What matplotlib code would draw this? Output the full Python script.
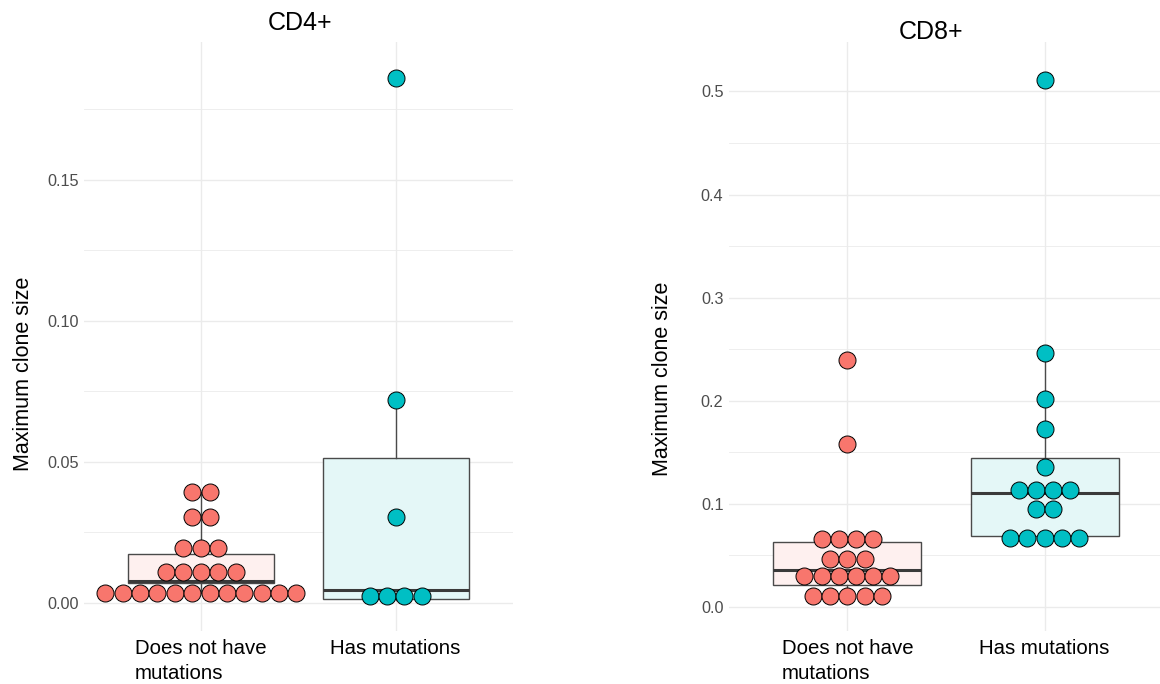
import numpy as np
import matplotlib.pyplot as plt

plt.rcParams['font.family'] = ['Liberation Sans', 'DejaVu Sans']

groups = ['Does not have\nmutations', 'Has mutations']
group_colors = ['#F8766D', '#00BFC4']
box_fills = ['#FEF0EF', '#E4F7F7']

# dot rows (binned values) and how many dots sit in each row
cd4_none_y = [0.0033, 0.0110, 0.0193, 0.0303, 0.0393]
cd4_none_n = [12, 5, 3, 2, 2]
cd4_mut_y = [0.0024, 0.0305, 0.0719, 0.1861]
cd4_mut_n = [4, 1, 1, 1]

cd8_none_y = [0.0110, 0.0304, 0.0469, 0.0660, 0.1585, 0.2397]
cd8_none_n = [5, 6, 3, 4, 1, 1]
cd8_mut_y = [0.0670, 0.0951, 0.1135, 0.1361, 0.1724, 0.2018, 0.2462, 0.5113]
cd8_mut_n = [5, 2, 4, 1, 1, 1, 1, 1]

# box stats: low whisker, q1, median, q3, high whisker
cd4_box_none = [0.0033, 0.0069, 0.0077, 0.0174, 0.0393]
cd4_box_mut = [0.0010, 0.0014, 0.0045, 0.0513, 0.0719]
cd8_box_none = [0.0110, 0.0213, 0.0362, 0.0631, 0.0660]
cd8_box_mut = [0.0670, 0.0692, 0.1103, 0.1449, 0.2462]


def box_stats(v):
    return dict(whislo=v[0], q1=v[1], med=v[2], q3=v[3], whishi=v[4])


def panel(ax, rows, boxes, dot_w, yticks, ylabels, minor, ylim, xlim):
    for y in minor:
        ax.axhline(y, color='#EBEBEB', lw=0.6, zorder=0)
    for y in yticks:
        ax.axhline(y, color='#EBEBEB', lw=1.0, zorder=0)
    for x in [1, 2]:
        ax.axvline(x, color='#EBEBEB', lw=1.0, zorder=0)

    bp = ax.bxp([box_stats(b) for b in boxes], positions=[1, 2], widths=0.75,
                showfliers=False, showcaps=False, patch_artist=True,
                boxprops=dict(edgecolor='#4a4a4a', linewidth=1.0),
                whiskerprops=dict(color='#4a4a4a', linewidth=1.0),
                medianprops=dict(color='#3a3a3a', linewidth=2.2),
                zorder=2)
    for patch, fc in zip(bp['boxes'], box_fills):
        patch.set_facecolor(fc)

    for i, (ys, ns) in enumerate(rows):
        for y, n in zip(ys, ns):
            xs = i + 1 + (np.arange(n) - (n - 1) / 2) * dot_w
            ax.scatter(xs, [y] * n, s=150, c=group_colors[i], edgecolors='black',
                       linewidths=0.7, zorder=3)

    ax.set_xlim(*xlim)
    ax.set_ylim(*ylim)
    ax.set_xticks([1, 2])
    ax.set_xticklabels(groups, fontsize=14.7, multialignment='left',
                       color='black', linespacing=1.4)
    ax.set_yticks(yticks)
    ax.set_yticklabels(ylabels, fontsize=11.7, color='#4D4D4D')
    ax.tick_params(axis='both', length=0)
    ax.tick_params(axis='x', pad=5.5)
    ax.tick_params(axis='y', pad=4)
    for s in ax.spines.values():
        s.set_visible(False)
    ax.set_facecolor('none')


fig = plt.figure(figsize=(11.6, 6.84), dpi=100)
W, H = 1160, 684

ax1 = fig.add_axes([84 / W, (H - 631) / H, (512.5 - 84) / W, (631 - 42) / H])
panel(ax1, [(cd4_none_y, cd4_none_n), (cd4_mut_y, cd4_mut_n)],
      [cd4_box_none, cd4_box_mut], 0.0892,
      [0, 0.05, 0.10, 0.15], ['0.00', '0.05', '0.10', '0.15'],
      [0.025, 0.075, 0.125, 0.175], (-0.0100, 0.1988), (0.4, 2.6))

ax2 = fig.add_axes([729 / W, (H - 631) / H, (1163 - 729) / W, (631 - 42) / H])
panel(ax2, [(cd8_none_y, cd8_none_n), (cd8_mut_y, cd8_mut_n)],
      [cd8_box_none, cd8_box_mut], 0.0874,
      [0, 0.1, 0.2, 0.3, 0.4, 0.5], ['0.0', '0.1', '0.2', '0.3', '0.4', '0.5'],
      [0.05, 0.15, 0.25, 0.35, 0.45], (-0.0233, 0.548), (0.4, 2.6))

fig.text(300 / W, 1 - 23 / H, 'CD4+', ha='center', va='center', fontsize=18)
fig.text(931 / W, 1 - 32 / H, 'CD8+', ha='center', va='center', fontsize=18)
fig.text(23.5 / W, 1 - 374 / H, 'Maximum clone size', rotation=90,
         ha='center', va='center', fontsize=15.5)
fig.text(663 / W, 1 - 379 / H, 'Maximum clone size', rotation=90,
         ha='center', va='center', fontsize=15.5)

fig.savefig('out.png', dpi=100)
